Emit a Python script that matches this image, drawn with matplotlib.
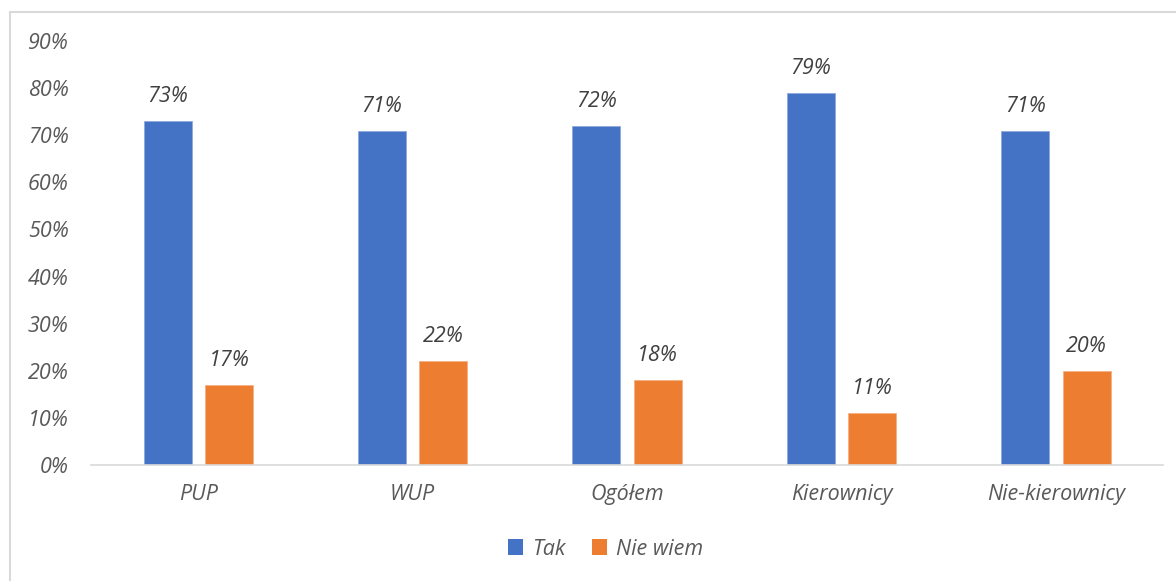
import numpy as np
import matplotlib.pyplot as plt
from matplotlib.lines import Line2D
from matplotlib.patches import Patch

categories = ["PUP", "WUP", "Ogółem", "Kierownicy", "Nie-kierownicy"]
tak = [73, 71, 72, 79, 71]
nie_wiem = [17, 22, 18, 11, 20]
yticks = [0, 10, 20, 30, 40, 50, 60, 70, 80, 90]

BLUE = "#4472c4"
ORANGE = "#ed7d31"
TXT = "#595959"
FS = 15.5

plt.rcParams['font.family'] = ['Open Sans', 'DejaVu Sans']

fig = plt.figure(figsize=(11.76, 5.81), dpi=100)
ax = fig.add_axes([0.0774, 0.1997, 0.9116, 0.7297])

x = np.arange(len(categories))
w = 0.224
off = 0.143
b1 = ax.bar(x - off, tak, w, color=BLUE, edgecolor="#8faadc", linewidth=0.6)
b2 = ax.bar(x + off, nie_wiem, w, color=ORANGE, edgecolor="#f4b183", linewidth=0.6)

for bars, vals in ((b1, tak), (b2, nie_wiem)):
    for r, v in zip(bars, vals):
        ax.annotate(f"{v}%", (r.get_x() + r.get_width() / 2, v),
                    xytext=(0, 10), textcoords="offset points",
                    ha="center", va="bottom", fontsize=FS,
                    style="italic", color="#404040")

ax.set_xlim(-0.5, len(categories) - 0.5)
ax.set_ylim(0, 90)
ax.set_yticks(yticks)
ax.set_yticklabels([f"{t}%" for t in yticks], style="italic", color=TXT, fontsize=FS)
ax.set_xticks(x)
ax.set_xticklabels(categories, style="italic", color=TXT, fontsize=FS)
ax.tick_params(axis="both", length=0)
ax.tick_params(axis="x", pad=14)
ax.tick_params(axis="y", pad=16)
for s in ("top", "right", "left"):
    ax.spines[s].set_visible(False)
ax.spines["bottom"].set_color("#d9d9d9")
ax.spines["bottom"].set_linewidth(1.2)

handles = [Patch(facecolor=BLUE, label="Tak"), Patch(facecolor=ORANGE, label="Nie wiem")]
leg = fig.legend(handles=handles, loc="center", bbox_to_anchor=(0.515, 0.055),
                 ncol=2, frameon=False, handlelength=0.7, handleheight=0.7,
                 handletextpad=0.45, columnspacing=1.2,
                 prop={"style": "italic", "size": FS})
for t in leg.get_texts():
    t.set_color(TXT)

# chart border (left and top edges visible)
fig.add_artist(Line2D([10 / 1176, 10 / 1176], [0, 1 - 12 / 581],
                      transform=fig.transFigure, color="#d9d9d9", lw=1.5))
fig.add_artist(Line2D([10 / 1176, 1], [1 - 12 / 581, 1 - 12 / 581],
                      transform=fig.transFigure, color="#d9d9d9", lw=1.5))

fig.savefig("out.png", dpi=100)
